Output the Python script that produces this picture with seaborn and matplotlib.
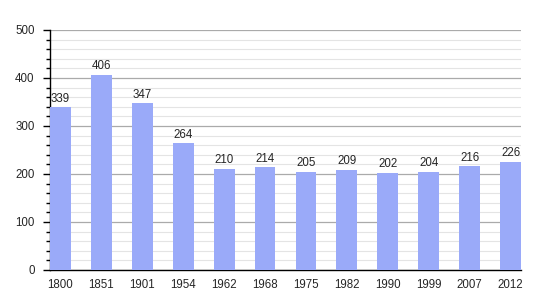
import matplotlib
matplotlib.use("Agg")
import matplotlib.pyplot as plt
import seaborn as sns
import pandas as pd
from matplotlib.ticker import MultipleLocator

years = ["1800", "1851", "1901", "1954", "1962", "1968", "1975", "1982", "1990", "1999", "2007", "2012"]
population = [339, 406, 347, 264, 210, 214, 205, 209, 202, 204, 216, 226]

df = pd.DataFrame({"year": years, "pop": population})

sns.set_style("white")
plt.rcParams['font.family'] = ['Liberation Sans', 'DejaVu Sans']

fig = plt.figure(figsize=(5.5, 3), dpi=100)
ax = fig.add_axes([50/550, 30/300, 471/550, 240/300])

w = 0.51
sns.barplot(data=df, x="year", y="pop", color="#9aaaf9", saturation=1, width=w, ax=ax,
            zorder=3, linewidth=0, edgecolor="none")

ax.set_ylim(0, 500)
ax.set_xlim(-w/2, len(years) - 1 + w/2)
ax.yaxis.set_major_locator(MultipleLocator(100))
ax.yaxis.set_minor_locator(MultipleLocator(20))
ax.grid(axis="y", which="major", color="#aaaaaa", linewidth=0.9, zorder=0)
ax.grid(axis="y", which="minor", color="#e4e4e4", linewidth=0.8, zorder=0)
ax.set_axisbelow(True)

for s in ["top", "right"]:
    ax.spines[s].set_visible(False)
ax.spines["left"].set_color("black")
ax.spines["bottom"].set_color("black")
ax.spines["left"].set_linewidth(1)
ax.spines["bottom"].set_linewidth(1)

ax.tick_params(axis="y", which="major", left=True, length=5, width=1, color="black", labelsize=8.3, pad=6)
ax.tick_params(axis="y", which="minor", left=True, length=3, width=1, color="black")
ax.tick_params(axis="x", which="major", bottom=False, labelsize=8.3, pad=3)

ax.set_xlabel("")
ax.set_ylabel("")

for i, v in enumerate(population):
    ax.annotate(str(v), (i, v), xytext=(0, 2), textcoords="offset points",
                ha="center", va="bottom", fontsize=8.3)

fig.savefig("out.png", dpi=100)
